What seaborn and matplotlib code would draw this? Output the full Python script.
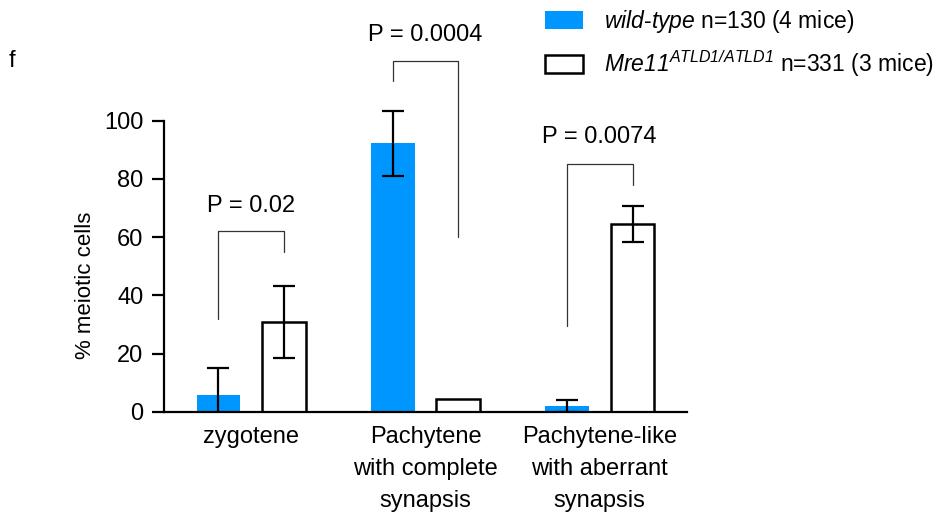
import pandas as pd
import seaborn as sns
import matplotlib.pyplot as plt
from matplotlib.patches import Patch

# Dados
categories = ["zygotene", "Pachytene\nwith complete\nsynapsis", "Pachytene-like\nwith aberrant\nsynapsis"]
groups = ["wild-type", "Mre11"]
wt_mean = [5.7, 92.2, 2.0]
wt_err = [9.4, 11.1, 2.0]
mre_mean = [30.9, 4.5, 64.5]
mre_err = [12.4, float("nan"), 6.3]
p_labels = ["P = 0.02", "P = 0.0004", "P = 0.0074"]
bracket_top = [62, 120.5, 85]
bracket_left_bottom = [32, 113.5, 29.5]
bracket_right_bottom = [55, 60, 78]
p_text_y = [68.6, 127.3, 92.3]
legend_labels = ["$\\mathit{wild}$-$\\mathit{type}$ n=130 (4 mice)",
                 "$\\mathit{Mre11}^{\\mathit{ATLD1/ATLD1}}$ n=331 (3 mice)"]

blue = "#0096FF"
fs = 17

sns.set_style("white")
plt.rcParams['font.family'] = ['Liberation Sans', 'DejaVu Sans']
plt.rcParams['mathtext.fontset'] = 'custom'
plt.rcParams['mathtext.rm'] = 'Liberation Sans:italic'
plt.rcParams['mathtext.it'] = 'Liberation Sans:italic'
plt.rcParams['mathtext.bf'] = 'Liberation Sans:bold'
for key in ['text.color', 'axes.labelcolor', 'xtick.color', 'ytick.color']:
    plt.rcParams[key] = 'black'

df = pd.DataFrame({
    "category": categories * 2,
    "group": [groups[0]] * 3 + [groups[1]] * 3,
    "value": wt_mean + mre_mean,
})

fig = plt.figure(figsize=(9.38, 5.14), dpi=100)
ax = fig.add_axes([164.3 / 938, (514 - 411.7) / 514, 522.4 / 938, 407.4 / 514])

sns.barplot(data=df, x="category", y="value", hue="group", order=categories, hue_order=groups,
            palette={groups[0]: blue, groups[1]: "white"}, width=0.756, gap=0.333, saturation=1,
            errorbar=None, legend=False, ax=ax, zorder=2)

# Bordas das barras
for bar in ax.containers[0]:
    bar.set_edgecolor("none")
for bar in ax.containers[1]:
    bar.set_edgecolor("black")
    bar.set_linewidth(1.8)

# Barras de erro
centers = []
for container, means, errs in zip(ax.containers, [wt_mean, mre_mean], [wt_err, mre_err]):
    xs = [p.get_x() + p.get_width() / 2 for p in container]
    centers.append(xs)
    ax.errorbar(xs, means, yerr=errs, fmt="none", ecolor="black", elinewidth=1.6,
                capsize=8, capthick=1.6, zorder=3)

# Colchetes de significância
for i in range(len(categories)):
    l, r = centers[0][i], centers[1][i]
    ax.plot([l, l, r, r], [bracket_left_bottom[i], bracket_top[i], bracket_top[i], bracket_right_bottom[i]],
            color="#333333", lw=0.9, zorder=1)
    ax.text(i, p_text_y[i], p_labels[i], ha="center", va="baseline", fontsize=fs)

ax.set_xlim(-0.5, 2.5)
ax.set_ylim(0, 140)
ax.set_yticks([0, 20, 40, 60, 80, 100])
ax.spines["left"].set_bounds(0, 100)
ax.spines["top"].set_visible(False)
ax.spines["right"].set_visible(False)
for s in ["left", "bottom"]:
    ax.spines[s].set_linewidth(1.6)
    ax.spines[s].set_color("black")
ax.tick_params(axis="y", length=9, width=1.6, pad=6, labelsize=fs, left=True)
ax.tick_params(axis="x", length=0, pad=10, labelsize=fs)
for lbl in ax.get_xticklabels():
    lbl.set_linespacing(1.6)
ax.set_xlabel("")
ax.set_ylabel("% meiotic cells", fontsize=16)
ax.yaxis.set_label_coords(-0.131, 0.311)

handles = [Patch(facecolor=blue, edgecolor="none"),
           Patch(facecolor="white", edgecolor="black", linewidth=1.8)]
fig.legend(handles, legend_labels, loc="upper left", bbox_to_anchor=(545 / 938, 1 - 8 / 514),
           frameon=False, fontsize=16.5, handlelength=1.65, handleheight=0.88, handletextpad=0.93,
           labelspacing=0.58, borderpad=0, borderaxespad=0)

fig.text(9 / 938, 1 - 67 / 514, "f", fontsize=fs, va="baseline")

plt.savefig("out.png", dpi=100)
plt.close()
